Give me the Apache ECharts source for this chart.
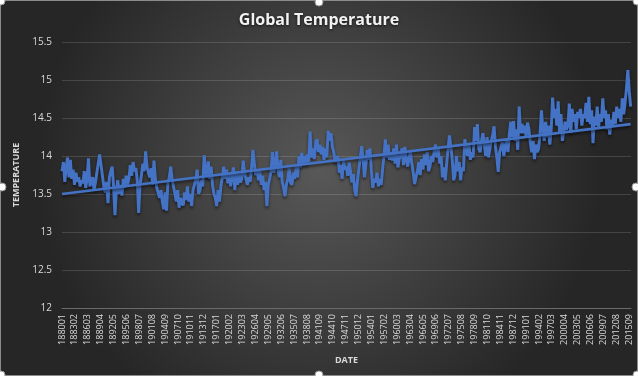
<!DOCTYPE html>
<html>
<head>
<meta charset="utf-8">
<script src="https://cdn.jsdelivr.net/npm/echarts@6/dist/echarts.min.js"></script>
<style>
  html, body { margin: 0; padding: 0; background: #2b2b2b; }
  #chart { width: 638px; height: 376px; }
</style>
</head>
<body>
<div id="chart"></div>
<script>
// x tick labels (every 37 months, YYYYMM)
const xLabels = ['188001','188302','188603','188904','189205','189506','189807','190108','190409',
  '190710','191011','191312','191701','192002','192303','192604','192905','193206','193507','193808',
  '194109','194410','194711','195012','195401','195702','196003','196304','196605','196906','197207',
  '197508','197809','198110','198411','198712','199101','199402','199703','200004','200305','200606',
  '200907','201208','201509'];

// one reading every 4 months (Jan, May, Sep), starting 1880-01
const sampleMonths = 4;
const temps = [
  // 1880s
  13.80,13.92,13.66, 13.85,13.98,13.72, 13.95,13.70,13.82, 13.62,13.78,13.66, 13.72,13.60,13.68,
  13.64,13.80,13.58, 13.70,13.97,13.60, 13.58,13.72,13.55, 13.65,13.78,13.80, 14.02,13.88,13.74,
  // 1890s
  13.60,13.52,13.66, 13.38,13.72,13.80, 13.86,13.60,13.22, 13.55,13.68,13.50, 13.62,13.48,13.70,
  13.58,13.74,13.62, 13.70,13.88,13.74, 13.92,13.80,13.84, 13.68,13.25,13.62, 13.75,13.90,13.80,
  // 1900s
  14.06,13.86,13.78, 13.72,13.84,13.62, 13.94,13.70,13.58, 13.60,13.45,13.55, 13.40,13.30,13.52,
  13.28,13.65,13.72, 13.86,13.70,13.60, 13.50,13.40,13.55, 13.32,13.45,13.38, 13.35,13.52,13.42,
  // 1910s
  13.60,13.40,13.50, 13.34,13.55,13.62, 13.70,13.82,13.50, 13.55,13.68,13.60, 14.01,13.80,13.72,
  13.93,13.70,13.86, 13.62,13.50,13.45, 13.34,13.55,13.40, 13.60,13.72,13.86, 13.70,13.82,13.64,
  // 1920s
  13.78,13.60,13.74, 13.85,13.55,13.80, 13.62,13.76,13.65, 13.70,13.94,13.78, 13.80,13.62,13.72,
  13.66,13.85,14.08, 13.90,13.75,13.82, 13.68,13.80,13.62, 13.74,13.55,13.66, 13.34,13.62,13.70,
  // 1930s
  13.80,14.05,13.78, 13.90,14.06,13.82, 13.72,13.95,13.66, 13.58,13.47,13.62, 13.70,13.84,13.65,
  13.62,13.78,13.70, 13.86,13.72,14.00, 13.85,14.04,13.90, 14.00,13.88,14.02, 13.92,14.32,13.98,
  // 1940s
  14.10,13.96,14.18, 14.22,14.05,14.15, 14.02,14.12,13.95, 14.10,13.98,14.33, 14.20,14.30,14.12,
  14.05,13.92,13.90, 14.00,13.78,13.88, 13.70,13.95,13.82, 13.86,13.74,13.92, 13.80,13.65,13.76,
  // 1950s
  13.55,13.47,13.68, 13.70,13.98,14.13, 13.96,13.72,13.88, 14.08,13.95,14.10, 13.80,13.58,13.70,
  13.65,13.78,13.60, 13.70,13.62,13.82, 14.00,14.22,13.98, 14.15,13.95,14.05, 13.94,14.10,13.90,
  // 1960s
  14.15,13.85,13.96, 14.02,14.10,13.88, 14.12,13.95,13.86, 13.98,14.05,13.90, 13.78,13.63,13.72,
  13.80,13.92,13.75, 13.96,13.82,14.02, 13.88,14.05,13.80, 13.86,14.00,13.92, 14.06,14.15,13.98,
  // 1970s
  14.10,13.90,14.00, 13.72,13.85,13.68, 13.90,14.10,14.27, 14.12,13.95,13.68, 13.75,14.00,13.80,
  13.92,13.68,13.85, 13.80,14.22,14.10, 14.00,14.15,13.95, 14.05,13.98,14.38, 14.20,14.42,14.10,
  // 1980s
  14.05,14.20,14.30, 14.15,14.00,14.25, 13.98,14.10,14.20, 14.28,14.39,14.12, 13.98,13.79,14.05,
  14.05,14.18,14.00, 14.12,14.22,14.05, 14.30,14.45,14.25, 14.46,14.20,14.35, 14.08,14.65,14.30,
  // 1990s
  14.42,14.30,14.40, 14.25,14.44,14.35, 14.18,14.05,14.20, 13.96,14.15,14.05, 14.10,14.30,14.60,
  14.35,14.20,14.45, 14.25,14.40,14.15, 14.35,14.77,14.50, 14.62,14.40,14.72, 14.30,14.55,14.20,
  // 2000s
  14.18,14.45,14.35, 14.40,14.69,14.30, 14.62,14.45,14.55, 14.35,14.58,14.50, 14.62,14.40,14.55,
  14.50,14.70,14.45, 14.78,14.42,14.60, 14.17,14.52,14.40, 14.65,14.38,14.55, 14.45,14.76,14.50,
  // 2010s
  14.60,14.35,14.55, 14.28,14.48,14.40, 14.58,14.42,14.65, 14.50,14.62,14.45, 14.76,14.55,14.70,
  14.89,15.13,14.85, 14.65
];

// linear trend, start and end value
const trend = [13.50, 14.42];

const lastMonth = (temps.length - 1) * sampleMonths;
const tempData = temps.map((v, i) => [i * sampleMonths, v]);
const trendData = [[0, trend[0]], [lastMonth, trend[1]]];

const chart = echarts.init(document.getElementById('chart'));

const blue = '#4472C4';
const labelColor = '#d9d9d9';
const gridColor = 'rgba(255,255,255,0.14)';

const handles = [[1, 1], [319, 2], [637, 1], [2, 187], [636, 187], [1, 375], [319, 375], [637, 375]];

chart.setOption({
  backgroundColor: {
    type: 'radial', x: 0.5, y: 0.45, r: 0.75,
    colorStops: [
      { offset: 0, color: '#585858' },
      { offset: 1, color: '#262626' }
    ]
  },
  animation: false,
  title: {
    text: 'Global Temperature',
    left: 'center',
    top: 7,
    textStyle: {
      color: '#f2f2f2',
      fontFamily: 'Open Sans',
      fontWeight: 'bold',
      fontSize: 16,
      textShadowColor: 'rgba(0,0,0,0.7)',
      textShadowBlur: 3,
      textShadowOffsetY: 1
    }
  },
  grid: { left: 62, right: 7, top: 42, bottom: 68 },
  xAxis: {
    type: 'value',
    min: 0,
    max: lastMonth + 1,
    interval: 37,
    name: 'DATE',
    nameLocation: 'middle',
    nameGap: 48,
    nameTextStyle: { color: labelColor, fontSize: 9, fontWeight: 'bold', fontFamily: 'Open Sans' },
    axisLine: { lineStyle: { color: '#6a6a6a' } },
    axisTick: { show: false },
    splitLine: { show: false },
    axisLabel: {
      rotate: 90,
      color: labelColor,
      fontSize: 9,
      fontFamily: 'Open Sans',
      margin: 6,
      showMaxLabel: false,
      formatter: v => (v % 37 === 0 && xLabels[v / 37]) ? xLabels[v / 37] : ''
    }
  },
  yAxis: {
    type: 'value',
    min: 12,
    max: 15.5,
    interval: 0.5,
    name: 'TEMPERATURE',
    nameLocation: 'middle',
    nameGap: 36,
    nameTextStyle: { color: labelColor, fontSize: 9, fontWeight: 'bold', fontFamily: 'Open Sans' },
    axisLine: { show: false },
    axisTick: { show: false },
    splitLine: { lineStyle: { color: gridColor } },
    axisLabel: { color: labelColor, fontSize: 10, fontFamily: 'Open Sans', margin: 10 }
  },
  series: [
    {
      name: 'Temperature',
      type: 'line',
      data: tempData,
      symbol: 'none',
      lineStyle: {
        color: blue, width: 3,
        shadowColor: 'rgba(0,0,0,0.55)', shadowBlur: 3, shadowOffsetY: 2
      }
    },
    {
      name: 'Trend',
      type: 'line',
      data: trendData,
      symbol: 'none',
      lineStyle: {
        color: blue, width: 2.75,
        shadowColor: 'rgba(0,0,0,0.55)', shadowBlur: 3, shadowOffsetY: 2
      }
    }
  ],
  graphic: [
    {
      type: 'rect', silent: true,
      shape: { x: 0.5, y: 0.5, width: 637, height: 375, r: 3 },
      style: { fill: 'none', stroke: '#8c8c8c', lineWidth: 1 }
    }
  ].concat(handles.map(p => ({
    type: 'circle', silent: true,
    shape: { cx: p[0], cy: p[1], r: 4 },
    style: { fill: '#ffffff', stroke: '#9a9a9a', lineWidth: 1 }
  })))
});
</script>
</body>
</html>
